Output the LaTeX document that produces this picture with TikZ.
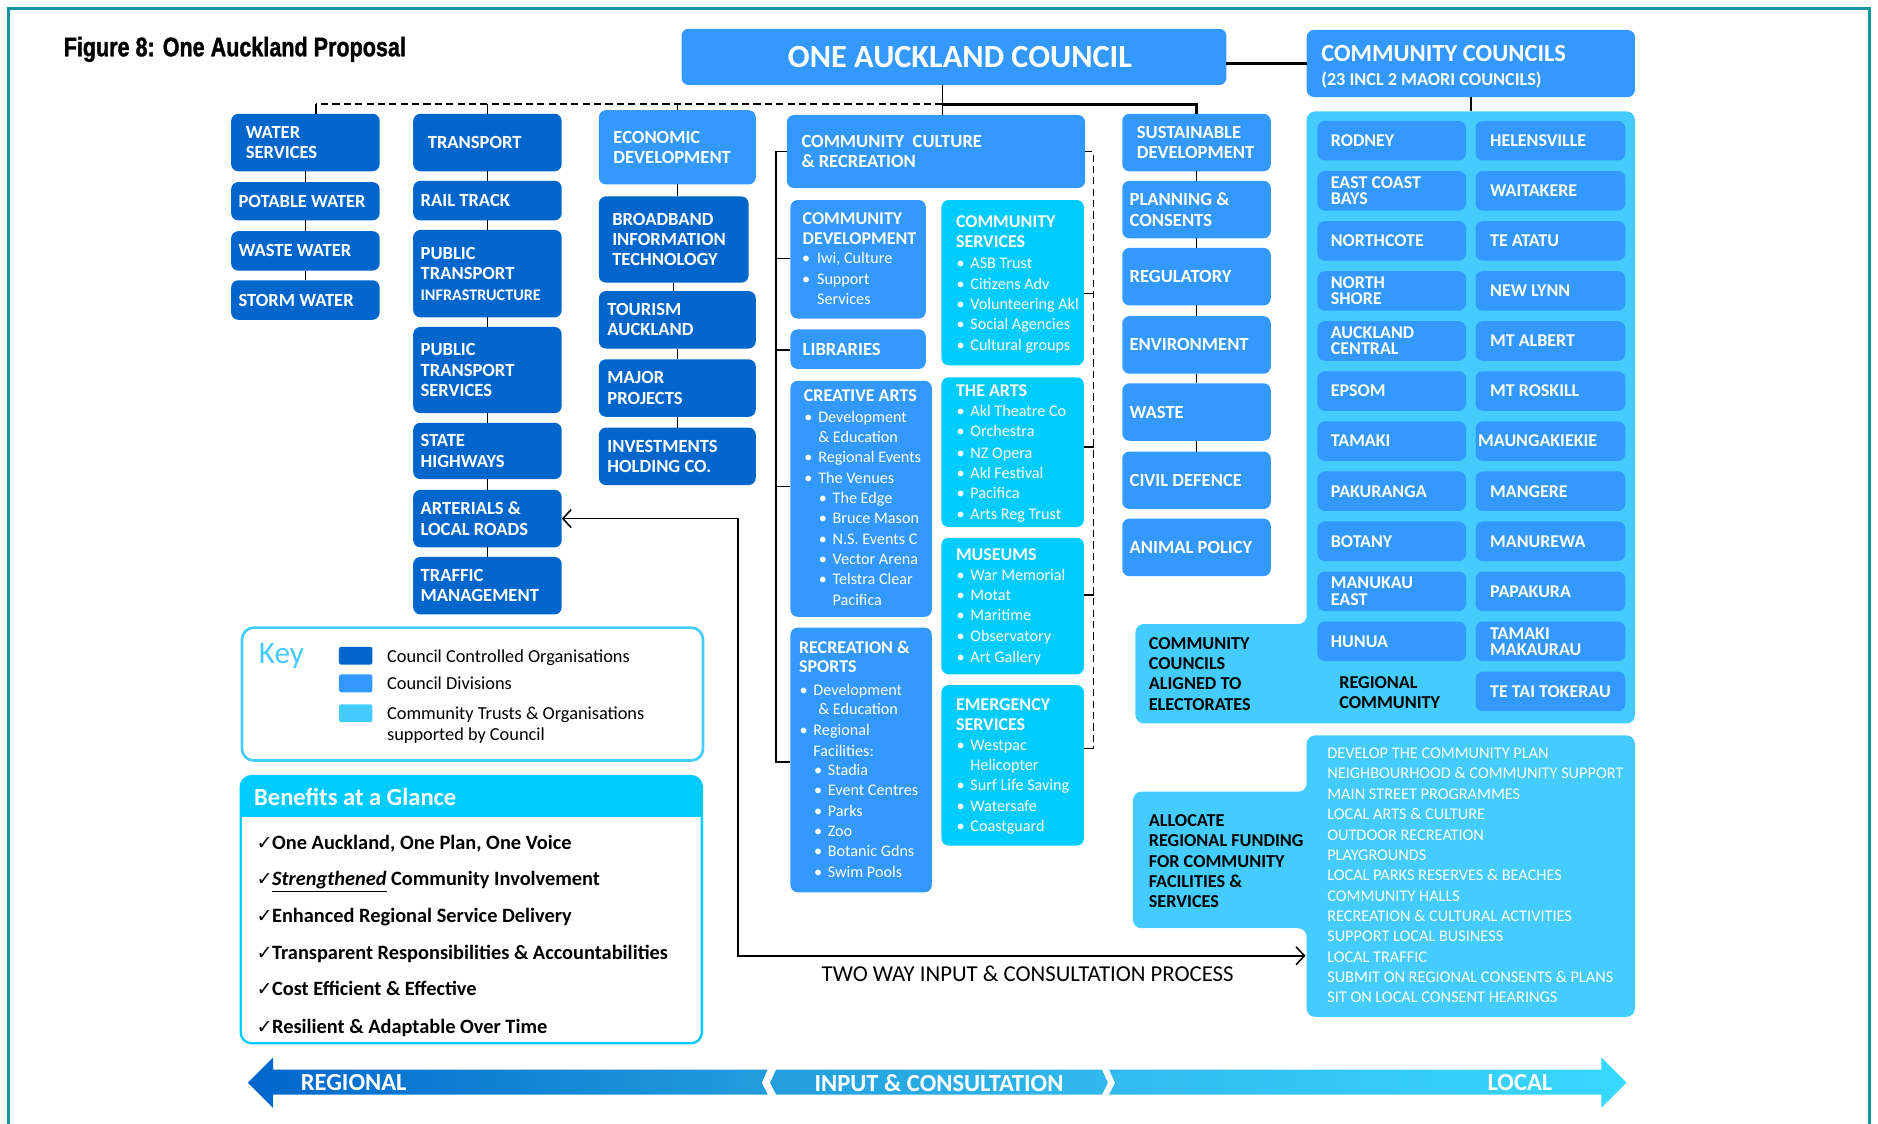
\documentclass[tikz,border=0pt]{standalone}
\usepackage{fontspec}
\setmainfont{Carlito}
\newfontfamily\titlefont[FakeStretch=0.8,FakeBold=1.2]{Liberation Sans Bold}
\newfontfamily\symfont{DejaVu Sans}
\usetikzlibrary{arrows.meta}
\definecolor{cco}{RGB}{0,102,204}
\definecolor{div}{RGB}{51,153,255}
\definecolor{comm}{RGB}{0,204,255}
\definecolor{panel}{RGB}{68,204,255}
\definecolor{framec}{RGB}{20,150,158}
\definecolor{bandA}{RGB}{34,158,220}
\definecolor{bandB}{RGB}{50,186,236}
\definecolor{bandC}{RGB}{56,216,255}
\newcounter{tn}
% one line of text, baseline placed by the style
\newcommand{\lbl}[4]{\stepcounter{tn}\node[#1] (t\arabic{tn}) at (#2,#3) {#4};}
% bullet (centred on its x) + text on one line
\newcommand{\bul}[5]{\lbl{#1,anchor=base}{#2}{#4}{•}\lbl{#1}{#3}{#4}{#5}}
% box with vertically centred, left aligned text
\newcommand{\bxt}[9]{\node[#2, anchor=north west, minimum width=#5pt, minimum height=#6pt] (#1) at (#3,#4) {};%
  \node[#7, anchor=west] (#1-t) at ([xshift=#8pt]#1.west) {#9};}
\begin{document}
\begin{tikzpicture}[x=1pt,y=-1pt,
  box/.style={rectangle, rounded corners=6pt, inner sep=0pt, outer sep=0pt},
  ccobox/.style={box, fill=cco},
  divbox/.style={box, fill=div},
  commbox/.style={box, fill=comm},
  wt/.style={inner sep=0pt, align=left, text=white, font=\fontsize{15.5}{17}\selectfont\bfseries},
  gt/.style={inner sep=0pt, align=left, text=white, font=\fontsize{15}{13.5}\selectfont\bfseries},
  lb/.style={anchor=base west, inner sep=0pt, text=white, font=\fontsize{15}{17}\selectfont\bfseries, yshift=-4.8pt},
  li/.style={anchor=base west, inner sep=0pt, text=white, font=\fontsize{13.5}{17}\selectfont, yshift=-4.4pt},
  bk/.style={inner sep=0pt, align=left, text=black, font=\fontsize{15.2}{17}\selectfont\bfseries},
  kt/.style={anchor=base west, inner sep=0pt, text=black, font=\fontsize{15.3}{17}\selectfont},
  bi/.style={anchor=base west, inner sep=0pt, text=black, font=\fontsize{17}{19}\selectfont\bfseries},
  ck/.style={anchor=base west, inner sep=0pt, text=black, font=\symfont\fontsize{16}{18}\selectfont},
  bandt/.style={inner sep=0pt, text=white, font=\fontsize{20.5}{22}\selectfont\bfseries},
  con/.style={draw=black, line width=1.3pt},
  dcon/.style={con, dash pattern=on 6pt off 3.5pt},
  barb/.style={{Straight Barb[length=7pt,width=15pt]}-{Straight Barb[length=7pt,width=15pt]}}
]
\clip (0,0) rectangle (1568,938);
\fill[white] (0,0) rectangle (1568,938);
% page frame
\draw[framec, line width=2.5pt] (7,950) -- (7,7) -- (1561,7) -- (1561,950);

% heading
\node[anchor=base west, inner sep=0pt, font=\titlefont\fontsize{22.5}{25}\selectfont] (title) at (53,47) {Figure 8: One Auckland Proposal};

% top level
\node[divbox, anchor=north west, minimum width=455pt, minimum height=47pt] (oac) at (569,24) {};
\node[inner sep=0pt, text=white, font=\fontsize{27}{29}\selectfont\bfseries] (oac-t) at (801.5,48) {ONE AUCKLAND COUNCIL};
\node[divbox, anchor=north west, minimum width=274pt, minimum height=56pt] (ccb) at (1091,25) {};
\node[anchor=base west, inner sep=0pt, text=white, font=\fontsize{20.5}{22}\selectfont\bfseries] (ccb-t1) at (1103,51.5) {COMMUNITY COUNCILS};
\node[anchor=base west, inner sep=0pt, text=white, font=\fontsize{15.2}{17}\selectfont\bfseries] (ccb-t2) at (1103,71) {(23 INCL 2 MAORI COUNCILS)};

% water services
\bxt{ws}{ccobox}{193}{95}{124}{48}{wt}{12}{WATER\\SERVICES}
\bxt{pw}{ccobox}{193}{152}{124}{32}{wt}{6}{POTABLE WATER}
\bxt{ww}{ccobox}{193}{193}{124}{33}{wt}{6}{WASTE WATER}
\bxt{sw}{ccobox}{193}{234}{124}{33}{wt}{6}{STORM WATER}
% transport
\bxt{tr}{ccobox}{345}{95}{124}{48}{wt}{12}{TRANSPORT}
\bxt{rt}{ccobox}{345}{151}{124}{33}{wt}{6}{RAIL TRACK}
\bxt{pti}{ccobox}{345}{192}{124}{73}{wt}{6}{PUBLIC\\TRANSPORT\\{\fontsize{13.5}{17}\selectfont INFRASTRUCTURE}}
\bxt{pts}{ccobox}{345}{273}{124}{72}{wt}{6}{PUBLIC\\TRANSPORT\\SERVICES}
\bxt{sh}{ccobox}{345}{353}{124}{47}{wt}{6}{STATE\\HIGHWAYS}
\bxt{ar}{ccobox}{345}{409}{124}{48}{wt}{6}{ARTERIALS \&\\LOCAL ROADS}
\bxt{tm}{ccobox}{345}{465}{124}{48}{wt}{6}{TRAFFIC\\MANAGEMENT}
% economic development
\bxt{ed}{divbox}{500}{92}{131}{62}{wt}{12}{ECONOMIC\\DEVELOPMENT}
\bxt{bb}{ccobox}{500}{164}{125}{72}{wt}{11}{BROADBAND\\INFORMATION\\TECHNOLOGY}
\bxt{ta}{ccobox}{500}{243}{131}{48}{wt}{7}{TOURISM\\AUCKLAND}
\bxt{mp}{ccobox}{500}{300}{131}{48}{wt}{7}{MAJOR\\PROJECTS}
\bxt{ih}{ccobox}{500}{357}{131}{48}{wt}{7}{INVESTMENTS\\HOLDING CO.}
% sustainable development
\bxt{sd}{divbox}{937}{95}{124}{48}{wt}{12}{SUSTAINABLE\\DEVELOPMENT}
\bxt{pc}{divbox}{937}{151}{124}{48}{wt}{6}{PLANNING \&\\CONSENTS}
\bxt{reg}{divbox}{937}{207}{124}{48}{wt}{6}{REGULATORY}
\bxt{env}{divbox}{937}{264}{124}{48}{wt}{6}{ENVIRONMENT}
\bxt{wst}{divbox}{937}{320}{124}{48}{wt}{6}{WASTE}
\bxt{cdf}{divbox}{937}{377}{124}{48}{wt}{6}{CIVIL DEFENCE}
\bxt{ap}{divbox}{937}{433}{124}{48}{wt}{6}{ANIMAL POLICY}

% community culture & recreation
\bxt{ccr}{divbox}{657}{96}{249}{61}{wt}{12}{COMMUNITY\ \ CULTURE\\\& RECREATION}
\node[divbox, anchor=north west, minimum width=113pt, minimum height=99pt] (cd) at (660,167) {};
\lbl{lb}{670}{183}{COMMUNITY}
\lbl{lb}{670}{199}{DEVELOPMENT}
\bul{li}{673}{682}{216}{Iwi, Culture}
\bul{li}{673}{682}{233}{Support}
\lbl{li}{682}{250}{Services}
\bxt{lib}{divbox}{660}{275}{113}{33}{wt}{10}{LIBRARIES}
\node[divbox, anchor=north west, minimum width=118pt, minimum height=197pt] (ca) at (660,318) {};
\lbl{lb}{671}{330}{CREATIVE ARTS}
\bul{li}{675}{683}{348}{Development}
\lbl{li}{683}{365}{\& Education}
\bul{li}{675}{683}{382}{Regional Events}
\bul{li}{675}{683}{399}{The Venues}
\bul{li}{687}{695}{416}{The Edge}
\bul{li}{687}{695}{433}{Bruce Mason}
\bul{li}{687}{695}{450}{N.S. Events C}
\bul{li}{687}{695}{467}{Vector Arena}
\bul{li}{687}{695}{484}{Telstra Clear}
\lbl{li}{695}{501}{Pacifica}
\node[divbox, anchor=north west, minimum width=118pt, minimum height=221pt] (rs) at (660,524) {};
\lbl{lb}{667}{541}{RECREATION \&}
\lbl{lb}{667}{557}{SPORTS}
\bul{li}{671}{679}{576}{Development}
\lbl{li}{683}{592}{\& Education}
\bul{li}{671}{679}{610}{Regional}
\lbl{li}{679}{627}{Facilities:}
\bul{li}{683}{691}{643}{Stadia}
\bul{li}{683}{691}{660}{Event Centres}
\bul{li}{683}{691}{677}{Parks}
\bul{li}{683}{691}{694}{Zoo}
\bul{li}{683}{691}{711}{Botanic Gdns}
\bul{li}{683}{691}{728}{Swim Pools}

% supported trusts and organisations
\node[commbox, anchor=north west, minimum width=119pt, minimum height=138pt] (cs) at (786,167) {};
\lbl{lb}{798}{185}{COMMUNITY}
\lbl{lb}{798}{202}{SERVICES}
\bul{li}{802}{810}{220}{ASB Trust}
\bul{li}{802}{810}{237}{Citizens Adv}
\bul{li}{802}{810}{254}{Volunteering Akl}
\bul{li}{802}{810}{271}{Social Agencies}
\bul{li}{802}{810}{288}{Cultural groups}
\node[commbox, anchor=north west, minimum width=119pt, minimum height=125pt] (arts) at (786,315) {};
\lbl{lb}{798}{326}{THE ARTS}
\bul{li}{802}{810}{343}{Akl Theatre Co}
\bul{li}{802}{810}{360}{Orchestra}
\bul{li}{802}{810}{378}{NZ Opera}
\bul{li}{802}{810}{395}{Akl Festival}
\bul{li}{802}{810}{412}{Pacifica}
\bul{li}{802}{810}{429}{Arts Reg Trust}
\node[commbox, anchor=north west, minimum width=119pt, minimum height=114pt] (mus) at (786,449) {};
\lbl{lb}{798}{463}{MUSEUMS}
\bul{li}{802}{810}{480}{War Memorial}
\bul{li}{802}{810}{497}{Motat}
\bul{li}{802}{810}{514}{Maritime}
\bul{li}{802}{810}{531}{Observatory}
\bul{li}{802}{810}{549}{Art Gallery}
\node[commbox, anchor=north west, minimum width=119pt, minimum height=134pt] (es) at (786,572) {};
\lbl{lb}{798}{588}{EMERGENCY}
\lbl{lb}{798}{605}{SERVICES}
\bul{li}{802}{810}{622}{Westpac}
\lbl{li}{810}{639}{Helicopter}
\bul{li}{802}{810}{656}{Surf Life Saving}
\bul{li}{802}{810}{673}{Watersafe}
\bul{li}{802}{810}{690}{Coastguard}

% community councils panel
\fill[panel, rounded corners=7pt] (1091,93) -- (1365,93) -- (1365,604) -- (948,604) -- (948,521) -- (1091,521) -- cycle;
\coordinate (ccp) at (1228,93);
\foreach \n/\t [count=\i from 0] in {l1/RODNEY, l2/{EAST COAST\\BAYS}, l3/NORTHCOTE, l4/{NORTH\\SHORE}, l5/{AUCKLAND\\CENTRAL}, l6/EPSOM, l7/TAMAKI, l8/PAKURANGA, l9/BOTANY, l10/{MANUKAU\\EAST}, l11/HUNUA}{
  \node[divbox, anchor=north west, minimum width=124pt, minimum height=33pt] (\n) at (1100,{101+41.8*\i}) {};
  \node[gt, anchor=west] (\n-t) at ([xshift=11pt]\n.west) {\t};
}
\foreach \n/\t/\d [count=\i from 0] in {r1/HELENSVILLE/12, r2/WAITAKERE/12, r3/TE ATATU/12, r4/NEW LYNN/12, r5/MT ALBERT/12, r6/MT ROSKILL/12, r7/MAUNGAKIEKIE/2, r8/MANGERE/12, r9/MANUREWA/12, r10/PAPAKURA/12, r11/{TAMAKI\\MAKAURAU}/12, r12/TE TAI TOKERAU/12}{
  \node[divbox, anchor=north west, minimum width=125pt, minimum height=33pt] (\n) at (1232,{101+41.8*\i}) {};
  \node[gt, anchor=west] (\n-t) at ([xshift=\d pt]\n.west) {\t};
}
\node[bk, anchor=west] (align-t) at (959,562.5) {COMMUNITY\\COUNCILS\\ALIGNED TO\\ELECTORATES};
\node[bk, anchor=west] (regc-t) at (1118,578.5) {REGIONAL\\COMMUNITY};

% local responsibilities panel
\fill[panel, rounded corners=7pt] (1091,614) -- (1365,614) -- (1365,849) -- (1091,849) -- (1091,775) -- (946,775) -- (946,661) -- (1091,661) -- cycle;
\node[bk, anchor=west] (alloc-t) at (959,719) {ALLOCATE\\REGIONAL FUNDING\\FOR COMMUNITY\\FACILITIES \&\\SERVICES};
\node[inner sep=0pt, align=left, text=white, font=\fontsize{13.6}{17}\selectfont, anchor=west] (alist) at (1108,731) {DEVELOP THE COMMUNITY PLAN\\NEIGHBOURHOOD \& COMMUNITY SUPPORT\\MAIN STREET PROGRAMMES\\LOCAL ARTS \& CULTURE\\OUTDOOR RECREATION\\PLAYGROUNDS\\LOCAL PARKS RESERVES \& BEACHES\\COMMUNITY HALLS\\RECREATION \& CULTURAL ACTIVITIES\\SUPPORT LOCAL BUSINESS\\LOCAL TRAFFIC\\SUBMIT ON REGIONAL CONSENTS \& PLANS\\SIT ON LOCAL CONSENT HEARINGS};
\coordinate (aend) at (1090,798);

% connectors from the council
\coordinate (bus) at (787,87);
\draw[line width=2.8pt] (oac.east |- ccb.west) -- (ccb.west);
\draw[con] (ccb.south -| ccp) -- (ccp);
\draw[con] (oac.south -| bus) -- (bus |- ccr.north);
\draw[line width=2.6pt] (bus) -| (sd.north);
\coordinate (wsd) at (264,87);
\draw[dcon] (bus) -- (wsd);
\draw[con] (wsd) -- (wsd |- ws.north);
\draw[con] (bus -| tr.north) -- (tr.north);
\draw[con] (bus -| ed.north) -- (ed.north);
% column links
\foreach \a/\b in {ws/pw, pw/ww, ww/sw, tr/rt, rt/pti, pti/pts, pts/sh, sh/ar, ar/tm, sd/pc, pc/reg, reg/env, env/wst, wst/cdf}
  \draw[con] (\a.south) -- (\b.north);
\foreach \a/\b in {ed/bb, bb/ta, ta/mp, mp/ih}
  \draw[con] (\a.south) -- (\a.south |- \b.north);
% community culture tree
\coordinate (rsb) at (648,636);
\coordinate (cdb) at (648,216);
\coordinate (libb) at (648,292);
\coordinate (cab) at (648,406);
\draw[con] (ccr.west) -| (rsb) -- (rsb -| rs.west);
\draw[con] (cdb) -- (cdb -| cd.west);
\draw[con] (libb) -- (libb -| lib.west);
\draw[con] (cab) -- (cab -| ca.west);
\coordinate (rdb) at (913,625);
\coordinate (csb) at (913,245);
\coordinate (artb) at (913,373);
\coordinate (musb) at (913,497);
\draw[dcon] (ccr.east) -| (rdb);
\draw[con] (rdb) -- (rdb -| es.east);
\draw[con] (csb) -- (csb -| cs.east);
\draw[con] (artb) -- (artb -| arts.east);
\draw[con] (musb) -- (musb -| mus.east);
% two way process
\coordinate (ab1) at (616,433);
\coordinate (ab2) at (616,798);
\draw[con, barb] (ar.east) -- (ar.east -| ab1) -- (ab2) -- (aend);
\node[inner sep=0pt, font=\fontsize{19}{21}\selectfont] (twoway) at (858,813) {TWO WAY INPUT \& CONSULTATION PROCESS};

% key
\draw[panel, line width=2.2pt, rounded corners=10pt] (202,524) rectangle (587,635);
\node[anchor=base west, inner sep=0pt, text=panel, font=\fontsize{26}{28}\selectfont] (keyt) at (216,554) {Key};
\node[box, fill=cco, rounded corners=2pt, anchor=north west, minimum width=28pt, minimum height=15pt] (sw1) at (283,540) {};
\node[box, fill=div, rounded corners=2pt, anchor=north west, minimum width=28pt, minimum height=15pt] (sw2) at (283,563) {};
\node[box, fill=panel, rounded corners=2pt, anchor=north west, minimum width=28pt, minimum height=15pt] (sw3) at (283,588) {};
\lbl{kt}{323}{553}{Council Controlled Organisations}
\lbl{kt}{323}{576}{Council Divisions}
\lbl{kt}{323}{601}{Community Trusts \& Organisations}
\lbl{kt}{323}{618}{supported by Council}

% benefits
\begin{scope}
  \clip[rounded corners=9pt] (201,648) rectangle (586,871);
  \fill[comm] (201,648) rectangle (586,682);
\end{scope}
\draw[comm, line width=2pt, rounded corners=9pt] (201,648) rectangle (586,871);
\node[anchor=base west, inner sep=0pt, text=white, font=\fontsize{20.5}{22}\selectfont\bfseries] (bhead) at (212,672.5) {Benefits at a Glance};
\foreach \y/\t in {709.5/{One Auckland, One Plan, One Voice}, 739.5/{\underline{\itshape Strengthened} Community Involvement}, 770.5/{Enhanced Regional Service Delivery}, 801.5/{Transparent Responsibilities \& Accountabilities}, 831.5/{Cost Efficient \& Effective}, 862.5/{Resilient \& Adaptable Over Time}}{
  \node[ck] (ck\y) at (214,\y) {✓};
  \node[bi] (bi\y) at (227,\y) {\t};
}

% regional to local band
\shade[left color=cco, right color=bandA] (207,904) -- (228,883) -- (228,893) -- (641,893) -- (636,904) -- (641,914) -- (228,914) -- (228,925) -- cycle;
\shade[left color=bandA, right color=bandB] (648,893) -- (920,893) -- (925,904) -- (920,914) -- (648,914) -- (643,904) -- cycle;
\shade[left color=bandB, right color=bandC] (926,893) -- (1337,893) -- (1337,883) -- (1358,904) -- (1337,925) -- (1337,914) -- (926,914) -- (931,904) -- cycle;
\node[bandt, anchor=west] (reg-t) at (251,904) {REGIONAL};
\node[bandt] (inp-t) at (784,904) {INPUT \& CONSULTATION};
\node[bandt] (loc-t) at (1269,904) {LOCAL};
\end{tikzpicture}
\end{document}
